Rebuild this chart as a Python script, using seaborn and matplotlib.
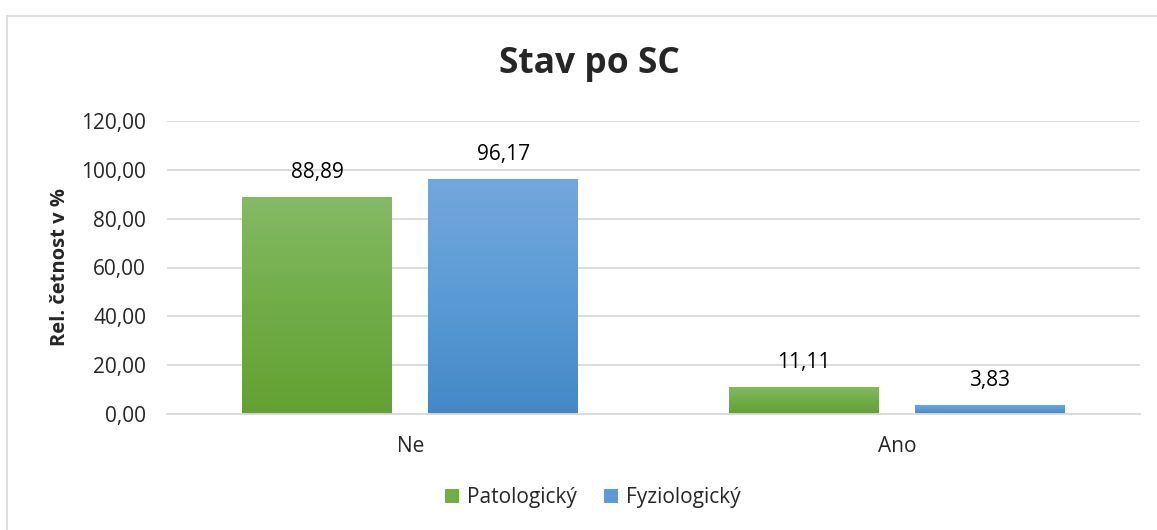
import matplotlib
matplotlib.use("Agg")
import matplotlib.pyplot as plt
import seaborn as sns
import pandas as pd
import numpy as np
from matplotlib.colors import LinearSegmentedColormap
from matplotlib.patches import Patch
from matplotlib.lines import Line2D

categories = ["Ne", "Ano"]
series = ["Patologický", "Fyziologický"]
patologicky = [88.89, 11.11]
fyziologicky = [96.17, 3.83]
y_ticks = [0, 20, 40, 60, 80, 100, 120]

title = "Stav po SC"
ylabel = "Rel. četnost v %"

green_grad = ["#85ba66", "#70ad47", "#63a133"]
blue_grad = ["#72a7dc", "#5b9bd5", "#4388c7"]

sns.set_theme(style="white")
plt.rcParams["font.family"] = ["Open Sans", "DejaVu Sans"]

FS = 15

df = pd.DataFrame({
    "kat": categories * 2,
    "serie": [series[0]] * 2 + [series[1]] * 2,
    "val": patologicky + fyziologicky,
})

fig = plt.figure(figsize=(11.57, 5.30), dpi=100)
ax = fig.add_axes([167 / 1157, 1 - 414 / 530, (1140 - 167) / 1157, (414 - 121) / 530])

sns.barplot(data=df, x="kat", y="val", hue="serie", order=categories,
            hue_order=series, palette=[green_grad[1], blue_grad[1]],
            width=0.765, gap=0.194, ax=ax, legend=False, errorbar=None,
            linewidth=0, saturation=1)

ax.set_ylim(0, 120)
ax.set_xlim(-0.5, 1.5)
ax.set_yticks(y_ticks)
ax.set_yticklabels([f"{v:.2f}".replace(".", ",") for v in y_ticks], fontsize=FS)
ax.tick_params(axis="x", labelsize=FS, length=0, pad=16)
ax.tick_params(axis="y", length=0, pad=15)
ax.set_xlabel("")
ax.set_ylabel(ylabel, fontsize=14.5, fontweight="bold", labelpad=8)
ax.yaxis.grid(True, color="#d9d9d9", linewidth=1.3)
ax.set_axisbelow(True)
for s in ["top", "right", "left"]:
    ax.spines[s].set_visible(False)
ax.spines["bottom"].set_color("#d9d9d9")
ax.spines["bottom"].set_linewidth(1.3)

# gradient fill for bars
cmaps = [LinearSegmentedColormap.from_list("g", green_grad[::-1]),
         LinearSegmentedColormap.from_list("b", blue_grad[::-1])]
grad = np.linspace(0, 1, 256).reshape(-1, 1)
for i, p in enumerate(list(ax.patches)):
    x0, y0 = p.get_x(), p.get_y()
    w, h = p.get_width(), p.get_height()
    cm = cmaps[i // len(categories)]
    im = ax.imshow(grad, cmap=cm, origin="lower", aspect="auto",
                   extent=[x0, x0 + w, y0, y0 + h], zorder=2)
    im.set_clip_path(p)
    ax.annotate(f"{h:.2f}".replace(".", ","), (x0 + w / 2, y0 + h),
                xytext=(0, 10), textcoords="offset points", ha="center",
                va="bottom", fontsize=FS, color="#000000")
ax.set_xlim(-0.5, 1.5)
ax.set_ylim(0, 120)

fig.text(589 / 1157, 1 - 64 / 530, title, ha="center", va="center",
         fontsize=25.5, fontweight="bold")

handles = [Patch(facecolor=green_grad[1], edgecolor="none"),
           Patch(facecolor=blue_grad[1], edgecolor="none")]
fig.legend(handles, series, loc="center", bbox_to_anchor=(593 / 1157, 1 - 498 / 530),
           ncol=2, frameon=False, fontsize=FS, handlelength=0.65, handleheight=0.65,
           handletextpad=0.4, columnspacing=1.3)

# outer border (top and left visible)
fig.add_artist(Line2D([7 / 1157, 1.0], [1 - 16 / 530] * 2, color="#d9d9d9", lw=1.2,
                      transform=fig.transFigure))
fig.add_artist(Line2D([7 / 1157] * 2, [0, 1 - 16 / 530], color="#d9d9d9", lw=1.2,
                      transform=fig.transFigure))

fig.savefig("out.png", dpi=100, facecolor="white")
